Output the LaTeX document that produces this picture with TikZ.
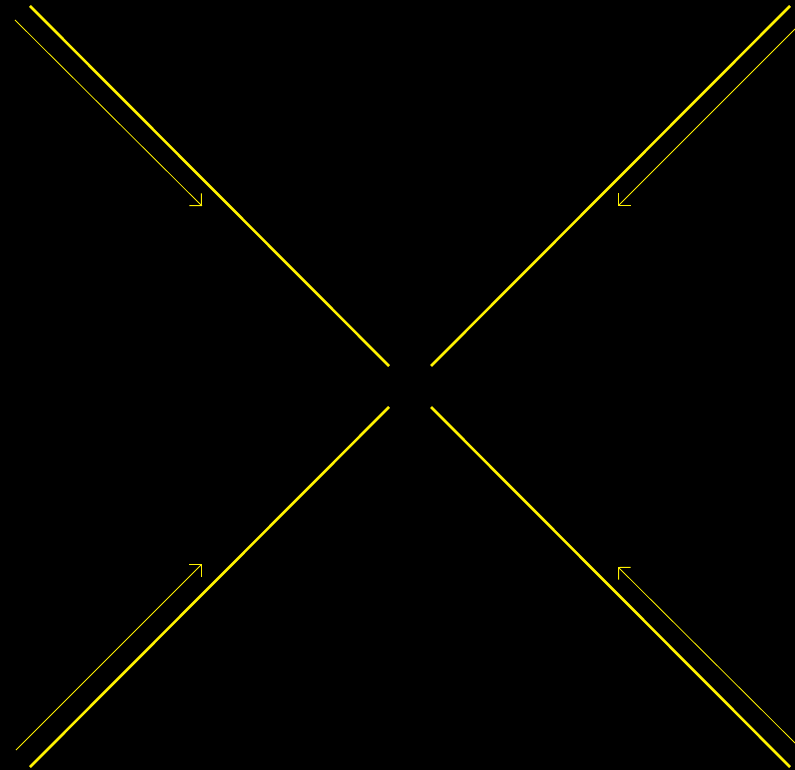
\documentclass[tikz,border=0pt]{standalone}
\usetikzlibrary{arrows.meta}
\begin{document}
\begin{tikzpicture}[x=1pt,y=-1pt,
  thickline/.style={draw=yellow,line width=2.6pt},
  thinarrow/.style={draw=yellow,line width=0.8pt,-{Straight Barb[length=8.5pt,width=17pt,line width=1pt]}}]
\fill[black] (0,0) rectangle (795,770);
\useasboundingbox (0,0) rectangle (795,770);
% thick lines
\coordinate (tl1) at (30,6);   \coordinate (tl2) at (389,366);
\coordinate (tr1) at (790,6);  \coordinate (tr2) at (431,366);
\coordinate (bl1) at (30,767); \coordinate (bl2) at (389,407);
\coordinate (br1) at (790,767);\coordinate (br2) at (431,407);
\draw[thickline] (tl1) -- (tl2);
\draw[thickline] (tr1) -- (tr2);
\draw[thickline] (bl1) -- (bl2);
\draw[thickline] (br1) -- (br2);
% thin arrows
\coordinate (a1s) at (15,20);   \coordinate (a1e) at (202,206);
\coordinate (a2s) at (795,29);  \coordinate (a2e) at (618,206);
\coordinate (a3s) at (16,750);  \coordinate (a3e) at (202,564);
\coordinate (a4s) at (795,743); \coordinate (a4e) at (618,567);
\draw[thinarrow] (a1s) -- (a1e);
\draw[thinarrow] (a2s) -- (a2e);
\draw[thinarrow] (a3s) -- (a3e);
\draw[thinarrow] (a4s) -- (a4e);
\end{tikzpicture}
\end{document}
